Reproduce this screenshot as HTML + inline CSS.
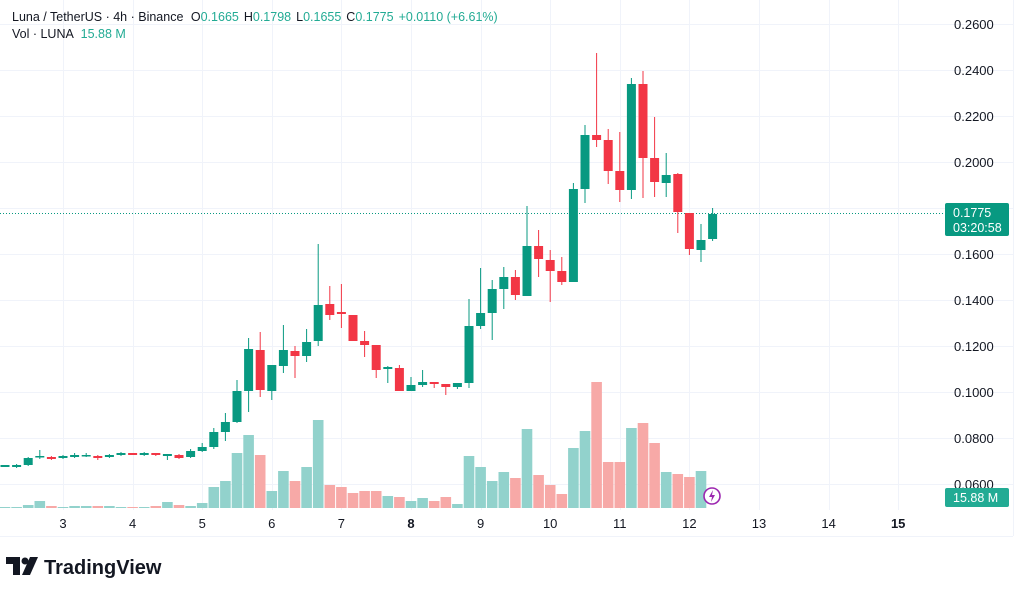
<!DOCTYPE html>
<html><head><meta charset="utf-8"><style>
html,body{margin:0;padding:0;background:#fff;width:1024px;height:595px;overflow:hidden;font-family:"Liberation Sans",sans-serif}
</style></head><body>
<svg id="s" width="1024" height="595" xmlns="http://www.w3.org/2000/svg" font-family="Liberation Sans, sans-serif">
<g id="grid" stroke="#f0f3fa" stroke-width="1"></g>
<g id="vol"></g>
<line x1="0" y1="213.5" x2="945" y2="213.5" stroke="#089981" stroke-width="1" stroke-dasharray="1,2"/>
<g id="cd"></g>
<line x1="0" y1="536.5" x2="1013" y2="536.5" stroke="#f0f3fa"/>
<line x1="1013.5" y1="0" x2="1013.5" y2="536" stroke="#f0f3fa"/>
<g font-size="13" fill="#131722" id="ax"></g>
<text x="954" y="212" font-size="13" fill="#131722">0.1800</text>
<rect x="945" y="203" width="64" height="33" rx="2" fill="#089981"/>
<text x="953" y="217" font-size="12.5" fill="#fff">0.1775</text>
<text x="953" y="232" font-size="12.5" fill="#fff">03:20:58</text>
<rect x="945" y="488" width="64" height="19" rx="2" fill="#22ab94"/>
<text x="953" y="502" font-size="12.5" fill="#fff">15.88 M</text>
<circle cx="712" cy="496" r="8" fill="#fff" stroke="#9c27b0" stroke-width="1.6"/>
<path d="M713 490 L709 497 L712 497 L711 502 L715 495 L712 495 Z" fill="#9c27b0"/>
<g font-size="13" fill="#131722" id="tx"></g>
<text x="12" y="21" font-size="12.5" fill="#131722">Luna / TetherUS · 4h · Binance <tspan dx="4">O</tspan><tspan fill="#22ab94">0.1665</tspan><tspan dx="5">H</tspan><tspan fill="#22ab94">0.1798</tspan><tspan dx="5">L</tspan><tspan fill="#22ab94">0.1655</tspan><tspan dx="5">C</tspan><tspan fill="#22ab94">0.1775</tspan><tspan dx="5" fill="#22ab94">+0.0110 (+6.61%)</tspan></text>
<text x="12" y="38" font-size="12.5" fill="#131722">Vol · LUNA <tspan dx="4" fill="#22ab94">15.88 M</tspan></text>
<g transform="translate(6,557)">
<path d="M0 0 H14 V18 H7 V7 H0 Z" fill="#131722"/>
<circle cx="19" cy="4" r="3.5" fill="#131722"/>
<path d="M24 0 H32 L24 18 H16 Z" fill="#131722"/>
</g>
<text x="44" y="574" font-size="20" font-weight="bold" fill="#131722">TradingView</text>
</svg>
<script>
var NS="http://www.w3.org/2000/svg";
function el(p,t,a){var e=document.createElementNS(NS,t);for(var k in a)e.setAttribute(k,a[k]);document.getElementById(p).appendChild(e);return e;}
for(var i=0;i<11;i++){var y=24+46*i;el("grid","line",{x1:0,y1:y+.5,x2:1013,y2:y+.5});}
var days=[3,4,5,6,7,8,9,10,11,12,13,14,15];
days.forEach(function(d,i){var x=63+69.6*i;el("grid","line",{x1:Math.round(x)+.5,y1:0,x2:Math.round(x)+.5,y2:510});
var t=el("tx","text",{x:x,y:528,"text-anchor":"middle"});t.textContent=d;if(d==8||d==15)t.setAttribute("font-weight","bold");});
for(var i=0;i<11;i++){var p=(0.26-0.02*i).toFixed(4);if(i==4)continue;var t=el("ax","text",{x:954,y:24+46*i+5});t.textContent=p;}
var C=[[465,467,465,467,'g'],[465,467,464,468,'g'],[458,465,457,466,'g'],[456,457,450,459,'g'],[457,459,456,460,'r'],[456,458,455,459,'g'],[455,457,453,458,'g'],[455,456,453,457,'g'],[456,458,455,460,'r'],[455,457,454,458,'g'],[453,455,452,456,'g'],[453,455,453,455,'r'],[453,455,452,456,'g'],[453,455,453,456,'r'],[454,456,454,460,'g'],[455,458,454,459,'r'],[451,457,449,458,'g'],[447,451,443,452,'g'],[432,447,428,449,'g'],[422,432,413,441,'g'],[391,422,380,423,'g'],[349,391,338,412,'g'],[350,390,332,397,'r'],[365,391,365,400,'g'],[350,366,325,373,'g'],[351,356,346,378,'r'],[342,356,329,362,'g'],[305,341,244,346,'g'],[304,315,286,320,'r'],[312,314,284,328,'r'],[315,341,315,341,'r'],[341,345,331,357,'r'],[345,370,345,378,'r'],[367,369,366,383,'g'],[368,391,365,391,'r'],[385,391,377,391,'g'],[382,385,370,387,'g'],[382,384,382,388,'r'],[384,387,384,395,'r'],[383,387,383,389,'g'],[326,383,299,388,'g'],[313,326,268,329,'g'],[289,313,280,340,'g'],[277,289,267,309,'g'],[277,295,270,300,'r'],[246,296,206,296,'g'],[246,259,230,277,'r'],[260,271,250,302,'r'],[271,282,257,285,'r'],[189,282,183,282,'g'],[135,189,125,203,'g'],[135,140,53,147,'r'],[140,171,129,184,'r'],[171,190,132,202,'r'],[84,190,78,199,'g'],[84,158,71,198,'r'],[158,182,117,197,'r'],[175,183,153,197,'g'],[174,212,173,233,'r'],[213,249,213,255,'r'],[240,250,224,262,'g'],[214,239,208,241,'g']];
var V=[[507,'g'],[507,'g'],[505,'g'],[501,'g'],[506,'r'],[507,'g'],[506,'g'],[506,'g'],[506,'r'],[506,'g'],[507,'g'],[507,'r'],[507,'g'],[506,'r'],[502,'g'],[505,'r'],[506,'g'],[503,'g'],[487,'g'],[481,'g'],[453,'g'],[435,'g'],[455,'r'],[491,'g'],[471,'g'],[481,'r'],[467,'g'],[420,'g'],[485,'r'],[487,'r'],[493,'r'],[491,'r'],[491,'r'],[496,'g'],[497,'r'],[501,'g'],[498,'g'],[501,'r'],[497,'r'],[504,'g'],[456,'g'],[467,'g'],[481,'g'],[472,'g'],[478,'r'],[429,'g'],[475,'r'],[485,'r'],[494,'r'],[448,'g'],[431,'g'],[382,'r'],[462,'r'],[462,'r'],[428,'g'],[423,'r'],[443,'r'],[472,'g'],[474,'r'],[477,'r'],[471,'g']];
V.forEach(function(v,i){var k=i-5,x=63+11.6*k;el("vol","rect",{x:(x-5.3).toFixed(1),y:v[0],width:10.6,height:508-v[0],fill:v[1]=='g'?'#92d2cc':'#f7a9a7'});});
C.forEach(function(c,i){var k=i-5,x=63+11.6*k,col=c[4]=='g'?'#089981':'#f23645';
el("cd","line",{x1:x.toFixed(1),y1:c[2],x2:x.toFixed(1),y2:c[3],stroke:col,"stroke-width":1});
el("cd","rect",{x:(x-4.5).toFixed(1),y:c[0],width:9,height:Math.max(1.5,c[1]-c[0]),fill:col});});
</script>
</body></html>
